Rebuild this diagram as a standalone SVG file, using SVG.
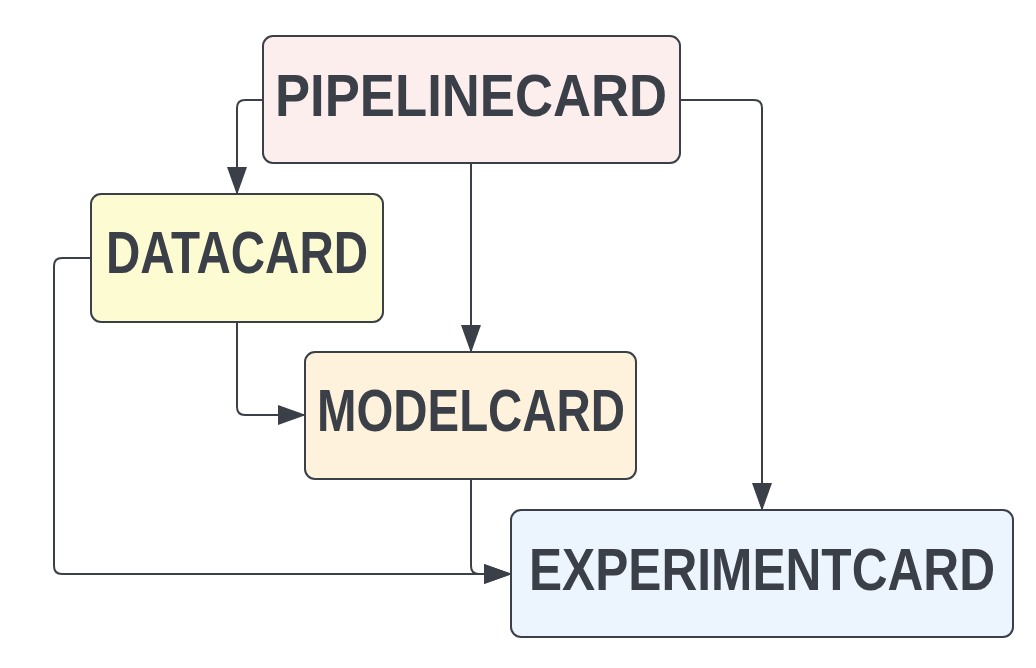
<svg xmlns="http://www.w3.org/2000/svg" width="1036" height="668" viewBox="0 0 1036 668">
<style>
.box{stroke:#3b4048;stroke-width:2}
.lbl{font-family:"Liberation Sans",Arial,sans-serif;font-weight:bold;font-size:50px;fill:#3b4048;text-anchor:middle}
.edge{fill:none;stroke:#3b4048;stroke-width:2}
</style>
<defs>
<marker id="arr" markerUnits="userSpaceOnUse" markerWidth="28" markerHeight="20" refX="27" refY="10" orient="auto">
<path d="M0,0 L28,10 L0,20 z" fill="#3b4048"/>
</marker>
</defs>
<rect width="1036" height="668" fill="#ffffff"/>
<g id="connectors">
<path class="edge" d="M263,100 L245,100 Q237,100 237,108 L237,194" marker-end="url(#arr)"/>
<path class="edge" d="M471,163 L471,352" marker-end="url(#arr)"/>
<path class="edge" d="M680,100 L754,100 Q762,100 762,108 L762,510" marker-end="url(#arr)"/>
<path class="edge" d="M237,322 L237,407 Q237,415 245,415 L305,415" marker-end="url(#arr)"/>
<path class="edge" d="M91,258 L62,258 Q54,258 54,266 L54,566 Q54,574 62,574 L511,574" marker-end="url(#arr)"/>
<path class="edge" d="M471,479 L471,566 Q471,574 479,574 L511,574" marker-end="url(#arr)"/>
</g>
<g id="pipelinecard">
<rect class="box" x="263" y="36" width="417" height="127" rx="10" fill="#fdeeee"/>
<text class="lbl" transform="translate(471,116) scale(1,1.2)" textLength="392" lengthAdjust="spacingAndGlyphs">PIPELINECARD</text>
</g>
<g id="datacard">
<rect class="box" x="91" y="194" width="292" height="128" rx="10" fill="#fcfbd2"/>
<text class="lbl" transform="translate(237,273) scale(1,1.2)" textLength="262" lengthAdjust="spacingAndGlyphs">DATACARD</text>
</g>
<g id="modelcard">
<rect class="box" x="305" y="352" width="331" height="127" rx="10" fill="#fef2dc"/>
<text class="lbl" transform="translate(471,431) scale(1,1.2)" textLength="308" lengthAdjust="spacingAndGlyphs">MODELCARD</text>
</g>
<g id="experimentcard">
<rect class="box" x="511" y="510" width="502" height="127" rx="10" fill="#ecf4fe"/>
<text class="lbl" transform="translate(762,590) scale(1,1.2)" textLength="466" lengthAdjust="spacingAndGlyphs">EXPERIMENTCARD</text>
</g>
</svg>
